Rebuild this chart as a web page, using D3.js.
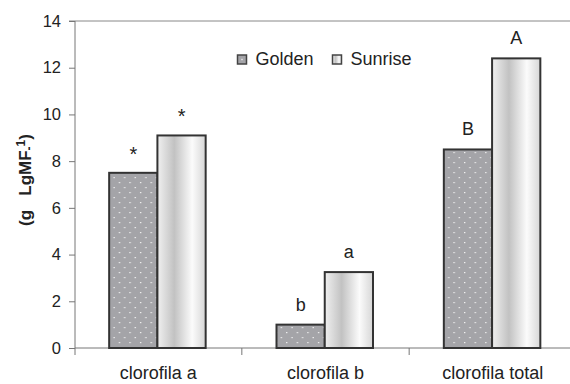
<!DOCTYPE html>
<html><head><meta charset="utf-8">
<script src="https://cdn.jsdelivr.net/npm/d3@7"></script>
<style>body{margin:0;background:#fff}svg{display:block}text{font-family:"Liberation Sans",Arial,sans-serif;fill:#222}</style>
</head><body>
<svg id="c" width="570" height="384"></svg>
<script>
const categories = ["clorofila a", "clorofila b", "clorofila total"];
const series = ["Golden", "Sunrise"];
const golden = [7.5, 1.0, 8.5];
const sunrise = [9.1, 3.25, 12.4];
const goldenLabels = ["*", "b", "B"];
const sunriseLabels = ["*", "a", "A"];
const yTicks = [0, 2, 4, 6, 8, 10, 12, 14];

const svg = d3.select("#c");
const defs = svg.append("defs");
const pat = defs.append("pattern").attr("id","dots").attr("patternUnits","userSpaceOnUse")
  .attr("width",10.6).attr("height",10).attr("x",2).attr("y",1);
pat.append("rect").attr("width",10.6).attr("height",10).attr("fill","#a4a4a8");
pat.append("rect").attr("x",1).attr("y",1).attr("width",1.3).attr("height",1.2).attr("fill","#f4f4f4");
pat.append("rect").attr("x",6.3).attr("y",6).attr("width",1.3).attr("height",1.2).attr("fill","#f4f4f4");
const gr = defs.append("linearGradient").attr("id","grad").attr("x1","0%").attr("x2","100%").attr("y1","0%").attr("y2","0%");
[["0%","#f0f0f0"],["35%","#c2c2c2"],["72%","#fbfbfb"],["100%","#d6d6d6"]].forEach(s=>gr.append("stop").attr("offset",s[0]).attr("stop-color",s[1]));

const y = d3.scaleLinear().domain([0,14]).range([348,21]);
const x = d3.scaleBand().domain(categories).range([74.5,576.5]);
const xs = d3.scaleBand().domain(series).range([-49,47.5]);

// top frame line
svg.append("line").attr("x1",69).attr("x2",570).attr("y1",y(14)).attr("y2",y(14)).attr("stroke","#888").attr("stroke-width",1);

// y axis
const ya = svg.append("g").attr("transform","translate(75,0)").call(d3.axisLeft(y).tickValues(yTicks).tickSize(6).tickPadding(8));
ya.select(".domain").attr("stroke","#777").attr("d","M0,"+y(14)+"V"+(y(0)+7));
ya.selectAll(".tick line").attr("stroke","#777");
ya.selectAll(".tick text").attr("font-size",16.5).attr("font-family","Liberation Sans, Arial, sans-serif").attr("fill","#222");

// x axis
const xa = svg.append("g").attr("transform","translate(0,"+y(0)+")").call(d3.axisBottom(x).tickSize(0).tickPadding(0));
xa.select(".domain").attr("stroke","#777").attr("d","M75,0H570");
xa.selectAll(".tick text").remove();
xa.selectAll(".tick line").remove();
[1,2].forEach(i=>{
  const xx = x(categories[i]);
  svg.append("line").attr("x1",xx).attr("x2",xx).attr("y1",y(0)).attr("y2",y(0)+7).attr("stroke","#777");
});
svg.selectAll(".cat").data(categories).enter().append("text")
  .attr("x",d=>x(d)+x.bandwidth()/2).attr("y",379).attr("text-anchor","middle").attr("font-size",18).text(d=>d);

// bars
const data = categories.map((c,i)=>({c, vals:[{s:"Golden",v:golden[i],l:goldenLabels[i]},{s:"Sunrise",v:sunrise[i],l:sunriseLabels[i]}]}));
const g = svg.selectAll(".grp").data(data).enter().append("g").attr("transform",d=>"translate("+(x(d.c)+x.bandwidth()/2)+",0)");
g.selectAll("rect").data(d=>d.vals).enter().append("rect")
  .attr("x",d=>xs(d.s)).attr("width",xs.bandwidth())
  .attr("y",d=>y(d.v)).attr("height",d=>y(0)-y(d.v))
  .attr("fill",d=>d.s==="Golden"?"url(#dots)":"url(#grad)")
  .attr("stroke","#333").attr("stroke-width",2);
g.selectAll(".lab").data(d=>d.vals).enter().append("text")
  .attr("x",d=>xs(d.s)+xs.bandwidth()/2).attr("y",d=>y(d.v)-(d.l==="*"?12:14))
  .attr("text-anchor","middle").attr("font-size",d=>d.l==="*"?20:18).text(d=>d.l);

// legend
const leg = svg.append("g");
const lx = [237.5, 332.5];
series.forEach((s,i)=>{
  leg.append("rect").attr("x",lx[i]).attr("y",55).attr("width",9).attr("height",9)
    .attr("fill",i===0?"#a4a4a8":"url(#grad)").attr("stroke","#444").attr("stroke-width",1.5);
  if(i===0) leg.append("rect").attr("x",lx[i]+3.8).attr("y",58.8).attr("width",1.4).attr("height",1.4).attr("fill","#eee");
  leg.append("text").attr("x",lx[i]+18).attr("y",65).attr("font-size",18).text(s);
});

// y title
const t = svg.append("text").attr("transform","translate(31,180) rotate(-90)").attr("text-anchor","middle")
  .attr("font-size",17).attr("font-weight","bold");
t.append("tspan").text("(g\u00a0\u00a0\u00a0LgMF");
t.append("tspan").attr("font-size",12).attr("dy",2).text("-");
t.append("tspan").attr("font-size",12).attr("dy",-8).text("1");
t.append("tspan").attr("dy",6).text(")");
</script>
</body></html>
